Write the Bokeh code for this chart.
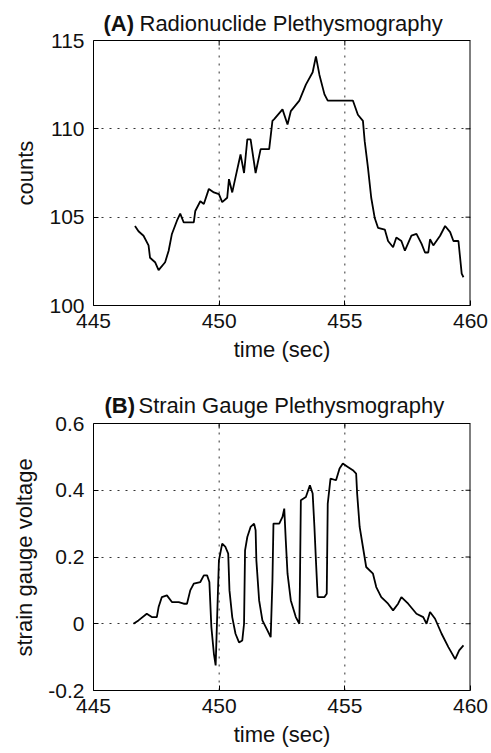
from bokeh.plotting import figure
from bokeh.layouts import column
from bokeh.models import FixedTicker, Range1d, Label, Title, CustomJSTickFormatter
from bokeh.embed import file_html
from bokeh.resources import INLINE

# ---------------- data ----------------
a_time = [446.65, 446.79, 446.99, 447.19, 447.25, 447.45, 447.59, 447.85, 447.99, 448.12,
          448.32, 448.45, 448.59, 448.99, 449.05, 449.25, 449.39, 449.59, 449.79, 449.99,
          450.12, 450.32, 450.39, 450.52, 450.65, 450.85, 450.99, 451.12, 451.25, 451.45,
          451.65, 451.99, 452.12, 452.19, 452.52, 452.72, 452.85, 453.19, 453.45, 453.72,
          453.85, 453.99, 454.19, 454.32, 454.92, 455.32, 455.52, 455.72, 455.79, 455.92,
          456.05, 456.19, 456.32, 456.59, 456.72, 456.92, 457.05, 457.25, 457.39, 457.65,
          457.85, 458.05, 458.19, 458.32, 458.39, 458.52, 458.79, 458.99, 459.19, 459.32,
          459.52, 459.65, 459.72]
a_counts = [104.5, 104.2, 103.95, 103.4, 102.7, 102.45, 102.0, 102.45, 103.1, 104.05,
            104.8, 105.2, 104.7, 104.7, 105.35, 105.9, 105.75, 106.6, 106.4, 106.3,
            105.85, 106.1, 107.15, 106.4, 107.25, 108.55, 107.5, 109.4, 109.4, 107.5,
            108.85, 108.85, 110.45, 110.55, 111.1, 110.25, 111.0, 111.6, 112.5, 113.2,
            114.1, 113.05, 111.95, 111.6, 111.6, 111.6, 110.8, 110.45, 109.3, 107.8,
            106.1, 104.95, 104.4, 104.3, 103.65, 103.3, 103.85, 103.65, 103.1, 103.95,
            104.05, 103.5, 103.0, 103.0, 103.75, 103.4, 103.95, 104.5, 104.15, 103.65,
            103.65, 101.8, 101.6]

b_time = [446.59, 446.79, 447.12, 447.32, 447.52, 447.59, 447.72, 447.92, 448.12, 448.39,
          448.59, 448.72, 448.85, 448.99, 449.25, 449.39, 449.52, 449.61, 449.69, 449.79,
          449.86, 449.99, 450.12, 450.25, 450.36, 450.41, 450.52, 450.65, 450.79, 450.92,
          450.99, 451.03, 451.12, 451.25, 451.39, 451.45, 451.48, 451.59, 451.72, 451.92,
          452.05, 452.12, 452.16, 452.39, 452.52, 452.59, 452.65, 452.72, 452.85, 453.05,
          453.19, 453.21, 453.25, 453.45, 453.61, 453.72, 453.79, 453.85, 453.92, 454.19,
          454.28, 454.32, 454.43, 454.65, 454.79, 454.92, 455.12, 455.32, 455.45, 455.49,
          455.59, 455.72, 455.85, 456.12, 456.25, 456.45, 456.72, 456.92, 457.12, 457.25,
          457.52, 457.85, 458.12, 458.25, 458.39, 458.59, 458.85, 459.12, 459.39, 459.55,
          459.72]
b_volt = [0.0, 0.01, 0.03, 0.02, 0.02, 0.05, 0.08, 0.085, 0.065, 0.065,
          0.06, 0.06, 0.10, 0.12, 0.125, 0.145, 0.145, 0.125, -0.01, -0.09,
          -0.125, 0.19, 0.24, 0.23, 0.21, 0.10, 0.02, -0.03, -0.056, -0.05,
          0.0, 0.22, 0.26, 0.29, 0.30, 0.28, 0.19, 0.07, 0.01, -0.02,
          -0.04, 0.13, 0.30, 0.30, 0.32, 0.345, 0.25, 0.15, 0.07, 0.02,
          0.0, 0.10, 0.37, 0.38, 0.415, 0.39, 0.29, 0.19, 0.08, 0.08,
          0.09, 0.36, 0.435, 0.43, 0.465, 0.48, 0.47, 0.46, 0.45, 0.39,
          0.29, 0.23, 0.17, 0.15, 0.11, 0.08, 0.06, 0.04, 0.06, 0.08,
          0.06, 0.03, 0.02, 0.0, 0.035, 0.015, -0.03, -0.07, -0.106, -0.08,
          -0.065]

x_ticks = [445, 450, 455, 460]
a_ticks = [100, 105, 110, 115]
b_ticks = [-0.2, 0, 0.2, 0.4, 0.6]

title_a = ("(A)", "Radionuclide Plethysmography")
title_b = ("(B)", "Strain Gauge Plethysmography")

FONT = "Liberation Sans"
TICK_SIZE = "21px"
LABEL_SIZE = "22px"
TEXT_COLOR = "#111111"
GRID_COLOR = "#333333"
LEFT, RIGHT, FRAME_W = 92, 22, 377


def panel(yticks, plot_h, head_h, bottom, ylabel, ylabel_offset, parts, x_tag, x_text, title_mid):
    """One panel; the frame reaches up over the title strip (head_h px) so that the
    title and the top tick label share one canvas. The plot box is drawn by hand."""
    x0, x1 = x_ticks[0], x_ticks[-1]
    y0, y1 = yticks[0], yticks[-1]
    per_px = (y1 - y0) / plot_h
    y_top = y1 + head_h * per_px
    x_per_px = (x1 - x0) / FRAME_W
    p = figure(output_backend="svg", toolbar_location=None,
               frame_width=FRAME_W, frame_height=plot_h + head_h,
               x_range=Range1d(x0, x1), y_range=Range1d(y0, y_top),
               min_border_left=LEFT, min_border_right=RIGHT,
               min_border_top=0, min_border_bottom=bottom,
               background_fill_color="white", border_fill_color="white")
    p.outline_line_color = None
    for ax, ticks in ((p.xaxis[0], x_ticks), (p.yaxis[0], yticks)):
        ax.ticker = FixedTicker(ticks=ticks)
        ax.major_tick_in = 5
        ax.major_tick_out = 0
        ax.minor_tick_line_color = None
        ax.axis_line_color = "black"
        ax.major_tick_line_color = "black"
        ax.major_label_text_font = FONT
        ax.major_label_text_font_size = TICK_SIZE
        ax.major_label_text_color = TEXT_COLOR
        ax.axis_label_text_font = FONT
        ax.axis_label_text_font_size = LABEL_SIZE
        ax.axis_label_text_font_style = "normal"
        ax.axis_label_text_color = TEXT_COLOR
    p.xaxis[0].axis_label = "time (sec)"
    p.xaxis[0].major_label_standoff = 8
    p.xaxis[0].axis_label_standoff = 6
    p.yaxis[0].bounds = (y0, y1)
    p.yaxis[0].major_label_standoff = 9
    p.yaxis[0].major_label_orientation = "horizontal"
    # y axis label as a side title, placed along the real plot box
    p.add_layout(Title(text=ylabel, align="left", offset=ylabel_offset, standoff=18,
                       text_font=FONT, text_font_size=LABEL_SIZE, text_font_style="normal",
                       text_color=TEXT_COLOR), "left")
    # grid
    p.xgrid.visible = False
    p.ygrid[0].ticker = FixedTicker(ticks=yticks)
    p.ygrid[0].grid_line_color = GRID_COLOR
    p.ygrid[0].grid_line_dash = "2 6"
    p.ygrid[0].grid_line_width = 1
    inner = x_ticks[1:-1]
    p.segment(x0=inner, y0=[y0] * len(inner), x1=inner, y1=[y1] * len(inner),
              line_color=GRID_COLOR, line_dash="2 6", line_width=1)
    # box: top and right edges
    p.segment(x0=[x0], y0=[y1], x1=[x1], y1=[y1], line_color="black", line_width=1)
    p.segment(x0=[x1], y0=[y0], x1=[x1], y1=[y1], line_color="black", line_width=2)
    # ticks on the top edge and right edge (inward)
    p.segment(x0=inner, y0=[y1] * len(inner), x1=inner, y1=[y1 - 5 * per_px] * len(inner),
              line_color="black", line_width=1)
    ymid = yticks[1:-1]
    p.segment(x0=[x1] * len(ymid), y0=ymid, x1=[x1 - 5 * x_per_px] * len(ymid), y1=ymid,
              line_color="black", line_width=1)
    # title
    yt = y_top - title_mid * per_px
    p.add_layout(Label(x=x0 + (x_tag - LEFT) * x_per_px, y=yt, text=parts[0], text_font=FONT,
                       text_font_size="22px", text_font_style="bold", text_color=TEXT_COLOR,
                       text_baseline="alphabetic"))
    p.add_layout(Label(x=x0 + (x_text - LEFT) * x_per_px, y=yt, text=parts[1], text_font=FONT,
                       text_font_size="22px", text_color=TEXT_COLOR,
                       text_baseline="alphabetic"))
    return p


# ---------------- panel A ----------------
pa = panel(a_ticks, 265, 40, 75, "counts", 100, title_a, 102, 138, 23)
pa.line(a_time, a_counts, line_color="black", line_width=1.8)

# ---------------- panel B ----------------
pb = panel(b_ticks, 267, 43, 63, "strain gauge voltage", 34, title_b, 103, 137, 25)
pb.yaxis[0].formatter = CustomJSTickFormatter(
    code="return Math.abs(tick) < 1e-9 ? '0' : tick.toFixed(1);")
pb.line(b_time, b_volt, line_color="black", line_width=1.8)

layout = column(pa, pb, spacing=0)
open("out.html", "w").write(file_html(layout, INLINE))
